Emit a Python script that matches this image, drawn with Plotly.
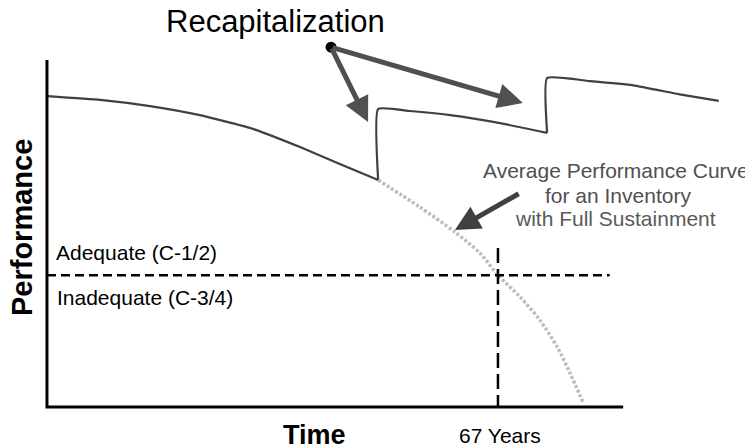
import plotly.graph_objects as go

# ---- data (time in years, performance in arbitrary units) ----
seg1_t = [0, 7.9, 15.3, 22.7, 30.2, 37.6, 43.5, 49.2]
seg1_p = [89.6, 88.5, 86.7, 84.1, 80.4, 74.9, 70.0, 65.4]

seg2_t = [49.2, 49.2, 53.9, 59.9, 67.3, 74.3]
seg2_p = [65.4, 85.9, 85.3, 84.1, 81.8, 79.0]

seg3_t = [74.3, 74.3, 80.7, 87.1, 94.0, 99.8]
seg3_p = [79.0, 94.8, 93.9, 92.7, 90.1, 88.2]

avg_t = [49.2, 55.4, 60.6, 64.3, 67.0, 70.3, 73.2, 75.8, 77.7, 79.6]
avg_p = [65.4, 57.6, 50.4, 44.4, 38.0, 31.7, 25.1, 17.3, 9.8, 1.5]

adequate_level = 38.0
years_to_threshold = 67
axis_t_end = 85.6
axis_p_end = 100
vline_top = 45.8

recap_origin = (42.2, 103.7)
recap_tips = [(47.7, 82.1), (70.7, 87.6)]
avg_arrow_tail = (70.3, 61.7)
avg_arrow_tip = (60.6, 51.0)

FONT = "Liberation Sans, Arial, sans-serif"

fig = go.Figure()

line_col = "#404040"
for t, p in [(seg1_t, seg1_p), (seg2_t, seg2_p), (seg3_t, seg3_p)]:
    fig.add_trace(go.Scatter(x=t, y=p, mode="lines",
                             line=dict(color=line_col, width=2.2, shape="spline", smoothing=0.4)))

fig.add_trace(go.Scatter(x=avg_t, y=avg_p, mode="lines",
                         line=dict(color="#bdbdbd", width=3.5, dash="3px,2px", shape="spline", smoothing=0.8)))

# threshold lines
fig.add_trace(go.Scatter(x=[0, 83.6], y=[adequate_level, adequate_level], mode="lines",
                         line=dict(color="black", width=2.5, dash="9px,5px")))
fig.add_trace(go.Scatter(x=[years_to_threshold, years_to_threshold], y=[vline_top, 0], mode="lines",
                         line=dict(color="black", width=2.5, dash="15px,6px")))

# axes
fig.add_trace(go.Scatter(x=[0, 0, axis_t_end], y=[axis_p_end, 0, 0], mode="lines",
                         line=dict(color="black", width=3)))

# recap dot
fig.add_trace(go.Scatter(x=[recap_origin[0]], y=[recap_origin[1]], mode="markers",
                         marker=dict(color="black", size=11), cliponaxis=False))

annotations = []
for tip in recap_tips:
    annotations.append(dict(x=tip[0], y=tip[1], ax=recap_origin[0], ay=recap_origin[1],
                            xref="x", yref="y", axref="x", ayref="y", text="",
                            showarrow=True, arrowhead=2, arrowsize=1.0, arrowwidth=5,
                            arrowcolor="#505050"))
annotations.append(dict(x=avg_arrow_tip[0], y=avg_arrow_tip[1], ax=avg_arrow_tail[0], ay=avg_arrow_tail[1],
                        xref="x", yref="y", axref="x", ayref="y", text="",
                        showarrow=True, arrowhead=2, arrowsize=1.0, arrowwidth=5,
                        arrowcolor="#404040"))

def txt(x, y, s, size, color="black", xanchor="center", bold=False):
    if bold:
        s = "<b>" + s + "</b>"
    return dict(x=x, y=y, xref="x", yref="y", text=s, showarrow=False,
                xanchor=xanchor, yanchor="middle", borderpad=0,
                font=dict(family=FONT, size=size, color=color))

annotations += [
    txt(33.9, 111.0, "Recapitalization", 31),
    txt(84.5, 68.2, "Average Performance Curve", 21, "#505050"),
    txt(84.8, 61.0, "for an Inventory", 21, "#505050"),
    txt(84.5, 54.2, "with Full Sustainment", 21, "#5a5a5a"),
    txt(1.2, 44.4, "Adequate (C-1/2)", 21, xanchor="left"),
    txt(1.3, 31.7, "Inadequate (C-3/4)", 21, xanchor="left"),
    txt(39.7, -8.1, "Time", 27, bold=True),
    txt(67.3, -8.1, "67 Years", 21),
]
annotations.append(dict(x=-3.7, y=51.6, xref="x", yref="y", text="<b>Performance</b>",
                        showarrow=False, textangle=-90, xanchor="center", yanchor="middle",
                        borderpad=0, font=dict(family=FONT, size=29, color="black")))

# page body has an 8px margin, so the figure area maps to screen pixels 8..753 / 8..448
fig.update_layout(
    width=745, height=440,
    margin=dict(l=0, r=0, t=0, b=0),
    paper_bgcolor="white", plot_bgcolor="white",
    showlegend=False,
    xaxis=dict(range=[-5.79, 104.89], visible=False, fixedrange=True),
    yaxis=dict(range=[-11.82, 114.99], visible=False, fixedrange=True),
    annotations=annotations,
)

fig.write_html("out.html")
